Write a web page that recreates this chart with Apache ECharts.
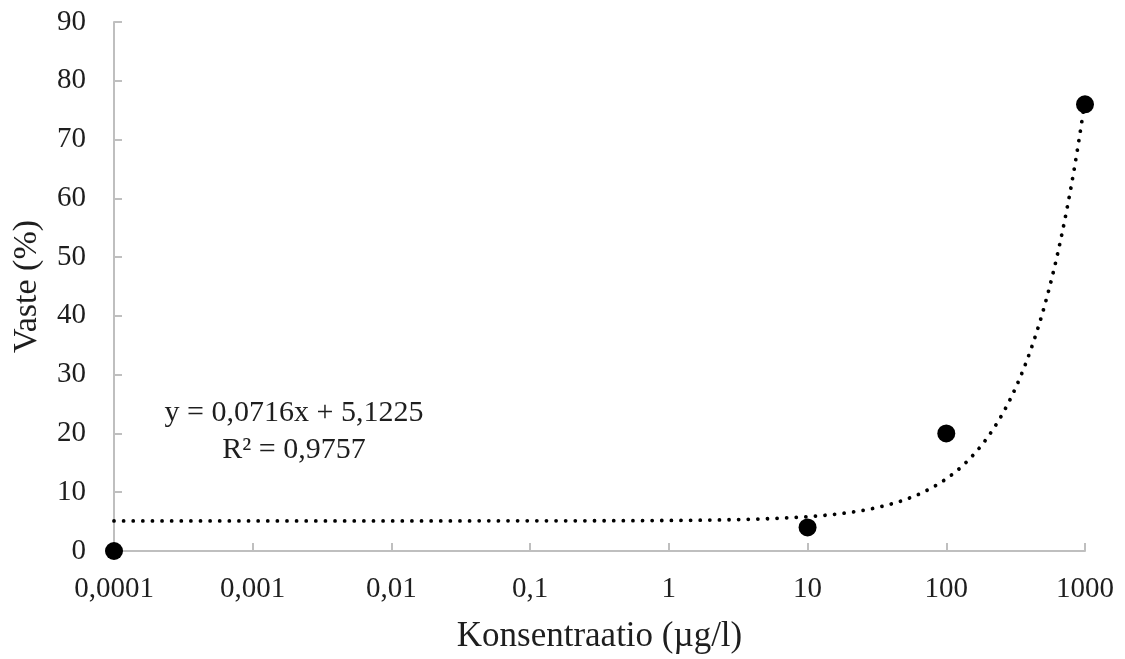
<!DOCTYPE html>
<html>
<head>
<meta charset="utf-8">
<title>Vaste – konsentraatio</title>
<script src="https://cdn.jsdelivr.net/npm/echarts@6/dist/echarts.min.js"></script>
<style>
  html, body { margin: 0; padding: 0; background: #ffffff; }
  #chart { width: 1125px; height: 659px; }
</style>
</head>
<body>
<div id="chart"></div>
<script>
// Measured responses at each concentration
const concentrations = [0.0001, 10, 100, 1000];
const responses = [0, 4, 20, 76];

// Linear trendline coefficients and fit quality
const SLOPE = 0.0716;
const INTERCEPT = 5.1225;
const R_SQUARED = 0.9757;

// Tick labels for the logarithmic concentration axis (decades 10^-4 … 10^3)
const xTickLabels = ['0,0001', '0,001', '0,01', '0,1', '1', '10', '100', '1000'];
const X_MIN_EXP = -4;
const X_MAX_EXP = 3;

const FONT = '"Liberation Serif", "DejaVu Serif", serif';
const TEXT_COLOR = '#1e1e1e';
const AXIS_COLOR = '#bfbfbf';

// Trendline evaluated along the log axis so the curve stays smooth on screen
const trendPoints = [];
const STEPS = 280;
for (let i = 0; i <= STEPS; i++) {
  const e = X_MIN_EXP + (X_MAX_EXP - X_MIN_EXP) * i / STEPS;
  const x = Math.pow(10, e);
  trendPoints.push([x, SLOPE * x + INTERCEPT]);
}

const fmt = (v, digits) => v.toFixed(digits).replace('.', ',');
const equationText =
  'y = ' + fmt(SLOPE, 4) + 'x + ' + fmt(INTERCEPT, 4) + '\n' +
  'R² = ' + fmt(R_SQUARED, 4);

const chart = echarts.init(document.getElementById('chart'), null, { renderer: 'canvas' });

chart.setOption({
  animation: false,
  backgroundColor: '#ffffff',
  grid: { left: 114, right: 40, top: 22, bottom: 108, containLabel: false },
  xAxis: {
    type: 'log',
    logBase: 10,
    min: Math.pow(10, X_MIN_EXP),
    max: Math.pow(10, X_MAX_EXP),
    name: 'Konsentraatio (µg/l)',
    nameLocation: 'middle',
    nameGap: 68,
    nameTextStyle: { fontFamily: FONT, fontSize: 35, color: TEXT_COLOR },
    axisLine: { show: true, onZero: false, lineStyle: { color: AXIS_COLOR, width: 2 } },
    axisTick: { show: true, inside: true, length: 8, lineStyle: { color: AXIS_COLOR, width: 2 } },
    minorTick: { show: false },
    splitLine: { show: false },
    axisLabel: {
      margin: 24,
      fontFamily: FONT,
      fontSize: 29,
      color: TEXT_COLOR,
      showMinLabel: true,
      showMaxLabel: true,
      formatter: function (v) {
        const idx = Math.round(Math.log10(v)) - X_MIN_EXP;
        return xTickLabels[idx] !== undefined ? xTickLabels[idx] : '';
      }
    }
  },
  yAxis: {
    type: 'value',
    min: 0,
    max: 90,
    interval: 10,
    name: 'Vaste (%)',
    nameLocation: 'middle',
    nameGap: 70,
    nameRotate: 90,
    nameTextStyle: { fontFamily: FONT, fontSize: 34, color: TEXT_COLOR },
    axisLine: { show: true, lineStyle: { color: AXIS_COLOR, width: 2 } },
    axisTick: { show: true, inside: true, length: 8, lineStyle: { color: AXIS_COLOR, width: 2 } },
    splitLine: { show: false },
    axisLabel: {
      margin: 28,
      fontFamily: FONT,
      fontSize: 29,
      color: TEXT_COLOR
    }
  },
  series: [
    {
      name: 'Trendline',
      type: 'line',
      data: trendPoints,
      showSymbol: false,
      symbol: 'none',
      smooth: false,
      clip: true,
      z: 2,
      lineStyle: { color: '#000000', width: 3.8, type: [0.01, 9.6], cap: 'round' }
    },
    {
      name: 'Vaste',
      type: 'scatter',
      data: concentrations.map((c, i) => [c, responses[i]]),
      symbol: 'circle',
      symbolSize: 18,
      clip: false,
      z: 3,
      itemStyle: { color: '#000000', opacity: 1 }
    }
  ],
  graphic: [
    {
      type: 'text',
      x: 294,
      y: 395,
      z: 10,
      style: {
        text: equationText,
        align: 'center',
        verticalAlign: 'top',
        lineHeight: 37,
        fontFamily: FONT,
        fontSize: 30,
        fill: TEXT_COLOR
      }
    }
  ]
});
</script>
</body>
</html>
